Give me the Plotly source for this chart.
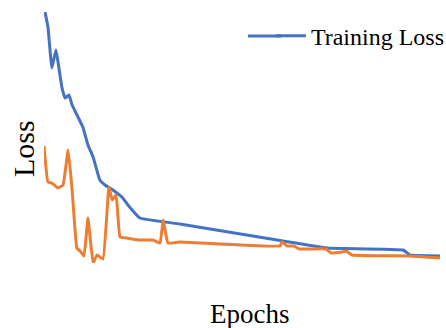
import plotly.graph_objects as go

# Training loss (blue)
train_epochs = [0.25, 1.0, 2.0, 3.0, 4.5, 5.3, 6.3, 7.1, 9.8, 11.1, 12.4, 14.1, 15.4, 17.4, 19.9, 21.2, 24.2, 34.3, 60.4, 71.5, 90.7, 92.4, 100.0]
train_loss = [2.63, 2.48, 2.07, 2.25, 1.88, 1.77, 1.80, 1.70, 1.48, 1.30, 1.18, 0.95, 0.90, 0.85, 0.77, 0.70, 0.57, 0.51, 0.34, 0.27, 0.25, 0.20, 0.19]

# Second loss curve (orange)
val_epochs = [0.0, 1.0, 2.0, 3.5, 4.8, 6.1, 7.1, 8.3, 9.1, 10.1, 11.1, 12.4, 13.4, 14.9, 16.4, 17.2, 18.2, 19.2, 20.9, 24.2, 27.5, 29.3, 30.1, 31.3, 34.3, 59.6, 60.1, 61.4, 63.1, 64.4, 71.2, 72.5, 75.3, 76.3, 77.8, 92.2, 100.0]
val_loss = [1.29, 0.93, 0.92, 0.87, 0.90, 1.25, 0.85, 0.27, 0.24, 0.19, 0.57, 0.12, 0.20, 0.16, 0.88, 0.75, 0.80, 0.38, 0.37, 0.35, 0.35, 0.32, 0.55, 0.32, 0.33, 0.29, 0.33, 0.29, 0.29, 0.26, 0.26, 0.22, 0.23, 0.24, 0.20, 0.19, 0.17]

BLUE = "#4472C4"
ORANGE = "#ED7D31"
FONT = "Liberation Serif, Times New Roman, serif"

fig = go.Figure()
fig.add_trace(go.Scatter(x=train_epochs, y=train_loss, mode="lines", name="Training Loss",
                         line=dict(color=BLUE, width=3, shape="spline", smoothing=0.3)))
fig.add_trace(go.Scatter(x=val_epochs, y=val_loss, mode="lines", name="Validation Loss",
                         showlegend=False,
                         line=dict(color=ORANGE, width=3, shape="spline", smoothing=0.3)))

axis_common = dict(showgrid=False, zeroline=False, showline=False,
                   showticklabels=False, ticks="", automargin=False)

fig.update_layout(
    width=446, height=328,
    margin=dict(l=44, r=6, t=12, b=65, autoexpand=False),
    paper_bgcolor="white", plot_bgcolor="white",
    font=dict(family=FONT, color="black", size=20),
    showlegend=True,
    legend=dict(x=0.573, y=0.904, xanchor="left", yanchor="middle",
                font=dict(family=FONT, size=24), bgcolor="rgba(0,0,0,0)"),
    xaxis=dict(range=[0, 100], **axis_common),
    yaxis=dict(range=[0.12, 2.63], **axis_common),
    shapes=[
        # lengthen the legend's line sample to match the original key
        dict(type="line", xref="paper", yref="paper", x0=0.515, x1=0.6,
             y0=0.904, y1=0.904, line=dict(color=BLUE, width=3)),
    ],
    annotations=[
        dict(text="Epochs", xref="paper", yref="paper", x=0.5, y=0,
             xanchor="center", yanchor="middle", yshift=-51, xshift=7,
             showarrow=False, font=dict(family=FONT, size=27, color="black")),
        dict(text="Loss", xref="paper", yref="paper", x=0, y=0.454,
             xanchor="center", yanchor="middle", xshift=-21, textangle=-90,
             showarrow=False, font=dict(family=FONT, size=30, color="black")),
    ],
)

fig.write_html("out.html", config={"displayModeBar": False},
               post_script="document.body.style.margin='0';document.body.style.overflow='hidden';")
